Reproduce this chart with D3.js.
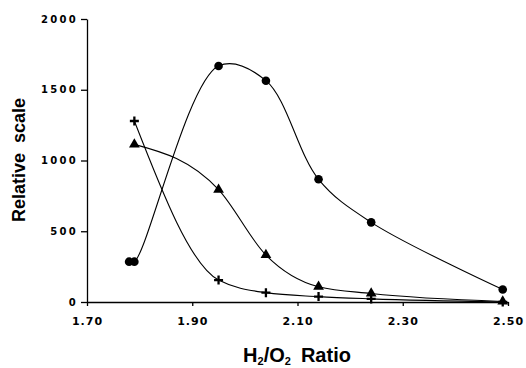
<!DOCTYPE html>
<html>
<head>
<meta charset="utf-8">
<script src="https://cdn.jsdelivr.net/npm/d3@7"></script>
<style>
  body { margin: 0; background: #fff; }
  svg { display: block; }
</style>
</head>
<body>
<script>
var w = 526;
var h = 368;

// H2/O2 ratio and relative scale for each series
var ratioCircle = [1.78, 1.79, 1.95, 2.04, 2.14, 2.24, 2.49];
var valCircle   = [285, 285, 1668, 1564, 867, 563, 88];

var ratioTri = [1.79, 1.95, 2.04, 2.14, 2.24, 2.49];
var valTri   = [1114, 794, 332, 108, 60, 4];

var ratioCross = [1.79, 1.95, 2.04, 2.14, 2.24, 2.49];
var valCross   = [1279, 155, 66, 38, 22, 0];

var xTicks = [1.70, 1.90, 2.10, 2.30, 2.50];
var yTicks = [0, 500, 1000, 1500, 2000];

var xScale = d3.scaleLinear().domain([1.70, 2.50]).range([87, 508]);
var yScale = d3.scaleLinear().domain([0, 2000]).range([302, 19]);

var svg = d3.select("body")
            .append("svg")
            .attr("width", w)
            .attr("height", h);

// axes
var yAxis = svg.append("g")
   .attr("transform", "translate(87,0)")
   .call(d3.axisLeft(yScale).tickValues(yTicks).tickFormat(d3.format("d"))
          .tickSize(6).tickSizeOuter(0).tickPadding(3));

yAxis.selectAll("text")
   .attr("font-family", "DejaVu Sans")
   .attr("font-weight", "bold")
   .attr("font-size", "10px")
   .attr("letter-spacing", "2.3px")
   .attr("fill", "#000");

var xAxis = svg.append("g")
   .attr("transform", "translate(0,302)")
   .call(d3.axisBottom(xScale).tickValues(xTicks).tickFormat(d3.format(".2f"))
          .tickSize(4).tickSizeOuter(0).tickPadding(11));

xAxis.selectAll("text")
   .attr("font-family", "DejaVu Sans")
   .attr("font-weight", "bold")
   .attr("font-size", "11px")
   .attr("letter-spacing", "1px")
   .attr("fill", "#000");

svg.selectAll(".domain, .tick line")
   .attr("stroke", "#000")
   .attr("stroke-width", 1.3);

// axis titles
svg.append("text")
   .attr("transform", "translate(25,160) rotate(-90)")
   .attr("text-anchor", "middle")
   .attr("font-family", "Liberation Sans")
   .attr("font-weight", "bold")
   .attr("font-size", "18px")
   .attr("xml:space", "preserve")
   .text("Relative  scale");

var xt = svg.append("text")
   .attr("x", 297)
   .attr("y", 362)
   .attr("text-anchor", "middle")
   .attr("font-family", "Liberation Sans")
   .attr("font-weight", "bold")
   .attr("font-size", "20px");
xt.append("tspan").text("H");
xt.append("tspan").attr("font-size", "11px").attr("dy", 3).text("2");
xt.append("tspan").attr("dy", -3).text("/O");
xt.append("tspan").attr("font-size", "11px").attr("dy", 3).text("2");
xt.append("tspan").attr("dy", -3).attr("dx", 10).text("Ratio");

// curves: smooth lines through the points
var series = [
  { x: ratioCircle, y: valCircle, mark: "circle", curve: d3.curveCatmullRom.alpha(0.5) },
  { x: ratioTri, y: valTri, mark: "triangle", curve: d3.curveMonotoneX },
  { x: ratioCross, y: valCross, mark: "cross", curve: d3.curveMonotoneX }
];

series.forEach(function(s) {
  var pts = s.x.map(function(x, i) { return [x, s.y[i]]; });

  var line = d3.line()
     .x(function(d) { return xScale(d[0]); })
     .y(function(d) { return yScale(d[1]); })
     .curve(s.curve);

  svg.append("path")
     .datum(pts)
     .attr("d", line)
     .attr("fill", "none")
     .attr("stroke", "#000")
     .attr("stroke-width", 1.1);

  var g = svg.selectAll(null)
     .data(pts)
     .enter()
     .append("g")
     .attr("transform", function(d) {
        return "translate(" + xScale(d[0]) + "," + yScale(d[1]) + ")";
     });

  if (s.mark === "circle") {
    g.append("circle").attr("r", 4.3).attr("fill", "#000");
  } else if (s.mark === "triangle") {
    g.append("path")
     .attr("d", d3.symbol().type(d3.symbolTriangle).size(50))
     .attr("fill", "#000");
  } else {
    g.append("path")
     .attr("d", "M-4.5,0H4.5M0,-4.5V4.5")
     .attr("stroke", "#000")
     .attr("stroke-width", 2.3);
  }
});
</script>
</body>
</html>
